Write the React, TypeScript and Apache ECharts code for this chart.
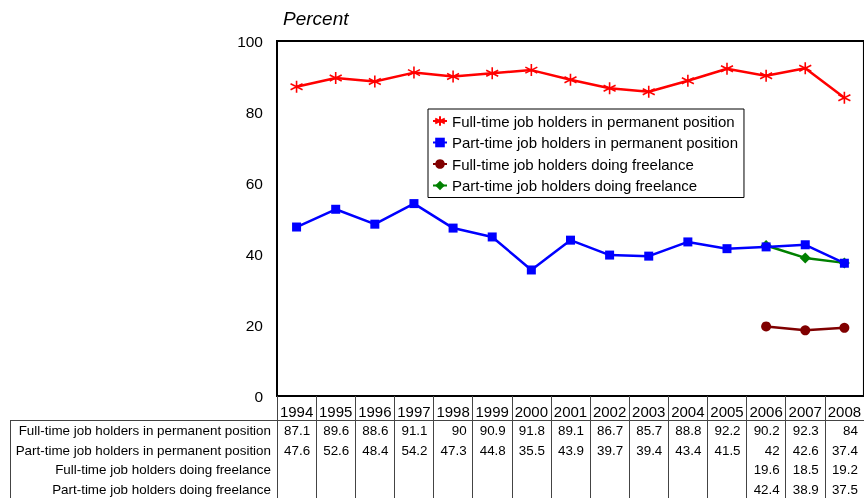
import React, { useEffect, useRef } from "react";
import * as echarts from "echarts";

const years = ["1994","1995","1996","1997","1998","1999","2000","2001","2002","2003","2004","2005","2006","2007","2008"];
const seriesNames = [
  "Full-time job holders in permanent position",
  "Part-time job holders in permanent position",
  "Full-time job holders doing freelance",
  "Part-time job holders doing freelance",
];
const ftPermanent = [87.1, 89.6, 88.6, 91.1, 90, 90.9, 91.8, 89.1, 86.7, 85.7, 88.8, 92.2, 90.2, 92.3, 84];
const ptPermanent = [47.6, 52.6, 48.4, 54.2, 47.3, 44.8, 35.5, 43.9, 39.7, 39.4, 43.4, 41.5, 42, 42.6, 37.4];
const ftFreelance = [null, null, null, null, null, null, null, null, null, null, null, null, 19.6, 18.5, 19.2];
const ptFreelance = [null, null, null, null, null, null, null, null, null, null, null, null, 42.4, 38.9, 37.5];
const yTicks = { min: 0, max: 100, interval: 20 };

const FONT = "Liberation Sans, Arial, sans-serif";
const STAR = "path://M5,0 L5,10 M0.67,2.5 L9.33,7.5 M0.67,7.5 L9.33,2.5";

export default function App() {
  const ref = useRef<HTMLDivElement>(null);
  useEffect(() => {
    if (!ref.current) return;
    const chart = echarts.init(ref.current, null, { renderer: "svg" });
    const rows = [ftPermanent, ptPermanent, ftFreelance, ptFreelance];
    const colors = ["#ff0000", "#0000ff", "#800000", "#008000"];
    const symbols = [STAR, "rect", "circle", "diamond"];
    const sizes = [12, 9, 10, 11];
    chart.setOption({
      animation: false,
      textStyle: { fontFamily: FONT },
      grid: {
        left: 277,
        top: 41,
        width: 589,
        height: 355,
        show: true,
        borderColor: "#000",
        borderWidth: 2,
        backgroundColor: "transparent",
      },
      legend: {
        orient: "vertical",
        left: 428,
        top: 109,
        padding: [4, 6, 4, 4],
        itemGap: 5.5,
        itemWidth: 14,
        itemHeight: 12,
        backgroundColor: "#fff",
        borderColor: "#000",
        borderWidth: 1,
        textStyle: { fontSize: 15, color: "#000", fontFamily: FONT, lineHeight: 16 },
        data: seriesNames,
      },
      xAxis: {
        type: "category",
        data: years,
        boundaryGap: true,
        axisLine: { show: true, lineStyle: { color: "#000", width: 2 } },
        axisTick: { show: true, interval: 0, alignWithLabel: false, length: 102, lineStyle: { color: "#444", width: 1 } },
        axisLabel: { interval: 0, hideOverlap: false, fontSize: 15, color: "#000", margin: 8, fontFamily: FONT },
        splitLine: { show: false },
      },
      yAxis: {
        type: "value",
        min: yTicks.min,
        max: yTicks.max,
        interval: yTicks.interval,
        axisLine: { show: true, lineStyle: { color: "#000", width: 2 } },
        axisTick: { show: false },
        splitLine: { show: false },
        axisLabel: { fontSize: 15.5, color: "#000", margin: 14, fontFamily: FONT },
      },
      series: rows.map((d, i) => ({
        name: seriesNames[i],
        type: "line",
        data: d,
        z: i === 1 ? 4 : 3,
        symbol: symbols[i],
        symbolSize: sizes[i],
        showSymbol: true,
        connectNulls: false,
        lineStyle: { color: colors[i], width: 2.5 },
        itemStyle: {
          color: colors[i],
          borderColor: colors[i],
          borderWidth: i === 0 ? 1.6 : 0,
          opacity: 1,
        },
      })),
    });

    const xs = years.map((y) => chart.convertToPixel({ xAxisIndex: 0 }, y) as number);
    const cw = xs.length > 1 ? xs[1] - xs[0] : 39;
    const rowY = [430.5, 450, 469.5, 489];
    const graphics: any[] = [
      {
        type: "text",
        left: 283,
        top: 9,
        style: { text: "Percent", fontSize: 19, fontStyle: "italic", fontFamily: FONT, fill: "#000" },
      },
      {
        type: "line",
        shape: { x1: 10, y1: 420.5, x2: 870, y2: 420.5 },
        style: { stroke: "#444", lineWidth: 1 },
      },
      {
        type: "line",
        shape: { x1: 10.5, y1: 420, x2: 10.5, y2: 500 },
        style: { stroke: "#444", lineWidth: 1 },
      },
    ];
    rows.forEach((row, r) => {
      graphics.push({
        type: "text",
        x: 271,
        y: rowY[r],
        style: {
          text: seriesNames[r],
          align: "right",
          verticalAlign: "middle",
          fontSize: 13.4,
          fontFamily: FONT,
          fill: "#000",
        },
      });
      row.forEach((v, i) => {
        if (v === null || v === undefined) return;
        graphics.push({
          type: "text",
          x: xs[i] + cw / 2 - 6,
          y: rowY[r],
          style: {
            text: String(v),
            align: "right",
            verticalAlign: "middle",
            fontSize: 13.4,
            fontFamily: FONT,
            fill: "#000",
          },
        });
      });
    });
    chart.setOption({ graphic: graphics });
    return () => chart.dispose();
  }, []);
  return <div ref={ref} style={{ position: "fixed", left: 0, top: 0, width: 864, height: 498 }} />;
}
